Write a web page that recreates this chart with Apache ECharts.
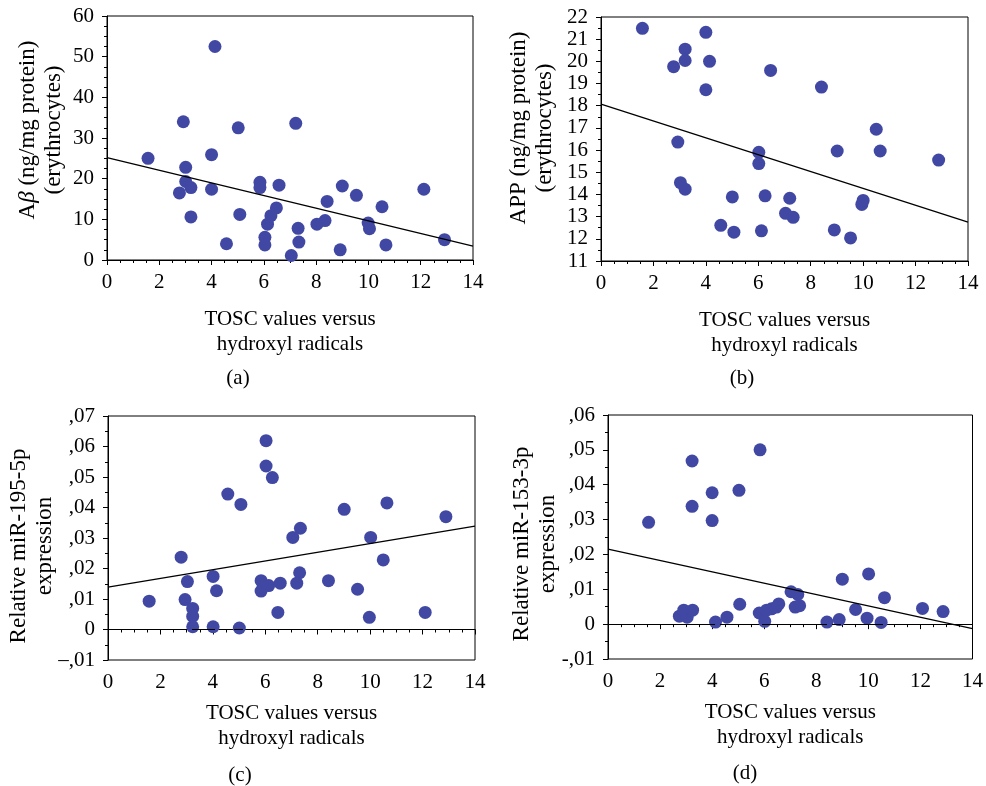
<!DOCTYPE html>
<head>
    <title>ECharts</title>
    <meta charset="UTF-8">
	<style>
	html, body { margin: 0; padding: 0; background: #fff; }
	</style>
</head>
<body>
	  <div id="main" style="width:986px;height:786px;"></div>

    <script src="https://cdn.jsdelivr.net/npm/echarts@6/dist/echarts.min.js" charset="UTF-8"></script>
    <script type="text/javascript">
    // x ticks shared by all four panels
    var fitX = [0, 14];

    // (a) Abeta
    var aX = [1.57, 4.13, 2.92, 5.02, 7.22, 4.0, 3.01, 3.01, 3.21, 2.77, 4.0, 5.85, 5.85, 6.58, 3.21, 5.08, 6.48, 6.27, 6.14, 6.04, 6.04, 4.57, 7.05, 7.31, 7.34, 8.03, 8.34, 8.42, 9.0, 9.54, 8.92, 9.99, 10.04, 10.52, 10.67, 12.12, 12.91];
    var aY = [25.0, 52.5, 34.0, 32.5, 33.6, 25.9, 22.8, 19.3, 17.8, 16.5, 17.4, 19.1, 17.8, 18.4, 10.6, 11.2, 12.8, 10.9, 8.8, 5.6, 3.7, 4.0, 1.1, 7.8, 4.4, 8.8, 9.7, 14.4, 18.2, 15.9, 2.5, 9.1, 7.7, 13.1, 3.7, 17.4, 5.0];
    var aFit = [25.2, 3.44];

    // (b) APP
    var bX = [1.58, 4.0, 3.21, 3.21, 2.77, 4.14, 6.47, 4.0, 8.41, 2.93, 6.02, 6.02, 10.5, 9.01, 10.65, 12.88, 3.03, 3.21, 5.01, 6.26, 7.2, 7.04, 7.33, 10.0, 9.95, 4.57, 5.07, 6.12, 8.9, 9.52];
    var bY = [21.49, 21.31, 20.55, 20.04, 19.76, 20.0, 19.59, 18.72, 18.84, 16.36, 15.9, 15.39, 16.94, 15.96, 15.96, 15.55, 14.53, 14.24, 13.89, 13.94, 13.83, 13.15, 12.97, 13.73, 13.55, 12.61, 12.3, 12.36, 12.4, 12.04];
    var bFit = [18.07, 12.75];

    // (c) miR-195-5p
    var cX = [1.57, 2.79, 3.03, 2.94, 3.23, 3.23, 3.23, 4.01, 4.14, 4.01, 4.57, 5.07, 5.01, 6.03, 6.03, 6.27, 5.84, 5.84, 6.13, 6.57, 6.48, 7.05, 7.34, 7.31, 7.2, 8.41, 9.01, 9.52, 10.02, 9.97, 10.5, 10.64, 12.1, 12.89];
    var cY = [0.0093, 0.0237, 0.0157, 0.0098, 0.0069, 0.0043, 0.0009, 0.0174, 0.0127, 0.0009, 0.0444, 0.0410, 0.0005, 0.0619, 0.0536, 0.0498, 0.0160, 0.0126, 0.0144, 0.0152, 0.0056, 0.0302, 0.0332, 0.0186, 0.0152, 0.0160, 0.0394, 0.0132, 0.0302, 0.0040, 0.0228, 0.0415, 0.0056, 0.0370];
    var cFit = [0.0139, 0.0339];

    // (d) miR-153-3p
    var dX = [1.56, 3.23, 3.23, 4.0, 4.0, 5.03, 5.84, 2.74, 2.91, 3.04, 3.25, 4.13, 4.57, 5.06, 5.81, 6.02, 6.09, 6.28, 6.47, 6.56, 7.03, 7.29, 7.19, 7.36, 8.41, 8.88, 9.0, 9.51, 10.01, 9.95, 10.49, 10.62, 12.08, 12.87];
    var dY = [0.0292, 0.0468, 0.0338, 0.0377, 0.0297, 0.0384, 0.0500, 0.0023, 0.0040, 0.0020, 0.0040, 0.0006, 0.0020, 0.0057, 0.0032, 0.0008, 0.0040, 0.0044, 0.0049, 0.0058, 0.0093, 0.0085, 0.0049, 0.0053, 0.0006, 0.0013, 0.0129, 0.0042, 0.0144, 0.0017, 0.0005, 0.0076, 0.0045, 0.0036];
    var dFit = [0.0215, -0.0013];

    var xTitle = 'TOSC values versus\nhydroxyl radicals';
    var captions = ['(a)', '(b)', '(c)', '(d)'];

    var serif = 'Liberation Serif';
    var dotColor = '#4148a4';

    function zip(xs, ys) {
        var out = [];
        for (var i = 0; i < xs.length; i++) out.push([xs[i], ys[i]]);
        return out;
    }

    // ,07 style labels (leading zero dropped, decimal comma)
    function commaFmt(neg) {
        return function (v) {
            var r = Math.round(v * 100) / 100;
            if (r === 0) return '0';
            var s = Math.abs(r).toFixed(2).slice(1).replace('.', ',');
            return (r < 0 ? neg : '') + s;
        };
    }

    var grids = [
        {left: 107, top: 16, width: 366, height: 244},
        {left: 601, top: 17, width: 367, height: 244},
        {left: 108, top: 416, width: 367, height: 244},
        {left: 608, top: 415, width: 367, height: 244}
    ];
    grids.forEach(function (g) {
        g.show = true; g.borderColor = '#000'; g.borderWidth = 1; g.backgroundColor = 'transparent';
    });

    function xAxisFor(i, gap) {
        return {
            gridIndex: i, type: 'value', min: 0, max: 14, interval: 2,
            axisLine: {show: true, lineStyle: {color: '#000', width: 1}},
            axisTick: {show: true, inside: false, length: 5, lineStyle: {color: '#000'}},
            minorTick: {show: true, splitNumber: 4, length: 3, lineStyle: {color: '#000'}},
            splitLine: {show: false},
            axisLabel: {color: '#000', fontFamily: serif, fontSize: 21, margin: 12},
            name: xTitle, nameLocation: 'middle', nameGap: gap, nameMoveOverlap: false,
            nameTextStyle: {color: '#000', fontFamily: serif, fontSize: 21, lineHeight: 25}
        };
    }

    // shift moves the rotated title along the axis (positive = up)
    function yAxisFor(i, min, max, interval, minorSplit, fmt, name, gap, shift) {
        var pad = shift >= 0 ? [0, 0, 0, 2 * shift] : [0, -2 * shift, 0, 0];
        return {
            gridIndex: i, type: 'value', min: min, max: max, interval: interval,
            axisLine: {show: true, lineStyle: {color: '#000', width: 1}},
            axisTick: {show: true, inside: false, length: 5, lineStyle: {color: '#000'}},
            minorTick: {show: true, splitNumber: minorSplit, length: 3, lineStyle: {color: '#000'}},
            splitLine: {show: false},
            axisLabel: {color: '#000', fontFamily: serif, fontSize: 21, margin: 13, formatter: fmt},
            name: name, nameLocation: 'middle', nameGap: gap, nameRotate: 90, nameMoveOverlap: false,
            nameTextStyle: {
                color: '#000', fontFamily: serif, fontSize: 23, lineHeight: 26, padding: pad,
                rich: {i: {fontStyle: 'italic', fontFamily: serif, fontSize: 23, color: '#000'}}
            }
        };
    }

    function scatter(i, xs, ys) {
        return {
            type: 'scatter', xAxisIndex: i, yAxisIndex: i, data: zip(xs, ys),
            symbolSize: 13, itemStyle: {color: dotColor, opacity: 1}, silent: true, z: 3
        };
    }

    function fit(i, ys, zeroLine) {
        var s = {
            type: 'line', xAxisIndex: i, yAxisIndex: i, data: zip(fitX, ys),
            symbol: 'none', lineStyle: {color: '#000', width: 1.3}, silent: true, z: 4
        };
        if (zeroLine) {
            s.markLine = {
                silent: true, symbol: ['none', 'none'], label: {show: false},
                lineStyle: {color: '#000', width: 1.2, type: [9, 5]},
                data: [{yAxis: 0}]
            };
        }
        return s;
    }

    function caption(txt, x, y) {
        return {type: 'text', x: x, y: y, style: {text: txt, font: '21px "Liberation Serif"', fill: '#000', textAlign: 'center', textVerticalAlign: 'middle'}};
    }

    var myChart = echarts.init(document.getElementById('main'), null, {renderer: 'canvas'});

    myChart.setOption({
        animation: false,
        backgroundColor: '#fff',
        grid: grids,
        xAxis: [xAxisFor(0, 47), xAxisFor(1, 47), xAxisFor(2, 41), xAxisFor(3, 41)],
        yAxis: [
            yAxisFor(0, 0, 60, 10, 4, null, 'A{i|β} (ng/mg protein)\n(erythrocytes)', 40, 8),
            yAxisFor(1, 11, 22, 1, 2, null, 'APP (ng/mg protein)\n(erythrocytes)', 43, 11),
            yAxisFor(2, -0.01, 0.07, 0.01, 2, commaFmt('–'), 'Relative miR-195-5p\nexpression', 50, -8),
            yAxisFor(3, -0.01, 0.06, 0.01, 2, commaFmt('-'), 'Relative miR-153-3p\nexpression', 47, -7)
        ],
        series: [
            scatter(0, aX, aY), fit(0, aFit, false),
            scatter(1, bX, bY), fit(1, bFit, false),
            scatter(2, cX, cY), fit(2, cFit, true),
            scatter(3, dX, dY), fit(3, dFit, true)
        ],
        graphic: [
            caption(captions[0], 238, 378),
            caption(captions[1], 742, 378),
            caption(captions[2], 240, 775),
            caption(captions[3], 745, 773)
        ]
    });
    </script>
</body>
